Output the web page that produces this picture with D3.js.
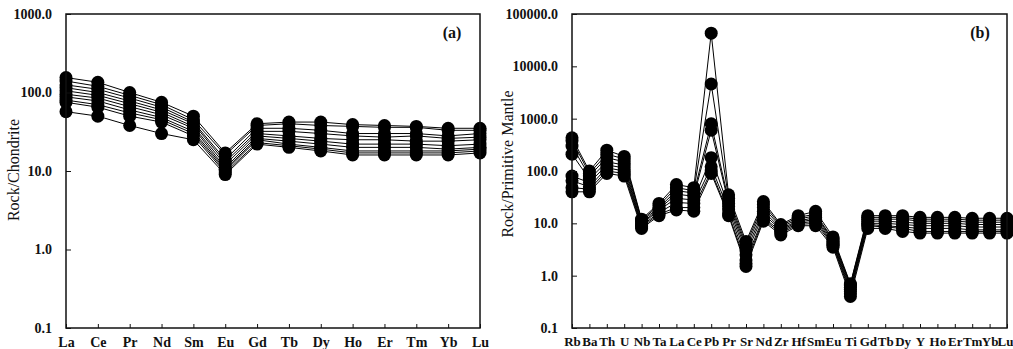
<!DOCTYPE html>
<html>
<head>
<meta charset="utf-8">
<script src="https://cdn.jsdelivr.net/npm/d3@7"></script>
<style>
  body { margin: 0; background: #fff; }
  svg text { font-family: "Liberation Serif", "Times New Roman", serif !important; fill: #111; }
</style>
</head>
<body>
<div id="chart"></div>
<script>
// chondrite normalised REE (panel a)
const reeElements = ["La","Ce","Pr","Nd","Sm","Eu","Gd","Tb","Dy","Ho","Er","Tm","Yb","Lu"];
const reeSamples = [
  [155,135,100,75,50,17,40,42,42,39,38,37,35,35],
  [140,120,92,70,45,16,38,40,38,37,36,36,33,33],
  [125,110,85,65,42,14,35,35,33,30,30,30,28,30],
  [115,100,78,60,40,13,32,32,30,28,27,28,26,27],
  [105,92,72,56,37,12,30,28,26,25,25,24,24,25],
  [95,85,66,52,35,11,28,26,24,22,22,22,21,22],
  [88,78,60,48,32,10.5,26,24,22,20,20,20,19,20],
  [80,70,55,45,30,10,25,22,20,18,18,18,18,19],
  [75,65,50,42,28,9.5,23,21,19,17,17,17,17,18],
  [57,50,38,30,25,9,22,20,18,16,16,16,16,17]
];
const reeTicks = [0.1, 1, 10, 100, 1000];

// primitive mantle normalised trace elements (panel b)
const traceElements = ["Rb","Ba","Th","U","Nb","Ta","La","Ce","Pb","Pr","Sr","Nd","Zr","Hf","Sm","Eu","Ti","Gd","Tb","Dy","Y","Ho","Er","Tm","Yb","Lu"];
const traceSamples = [
  [430,100,250,190,12,24,55,48,43000,35,4.5,26,9.5,14,17,5.5,0.7,14,14,14,13,13,13,12.5,12.5,12.5],
  [380,90,210,170,11.5,22,48,42,4600,30,4,23,9,13,15,5,0.68,13,13,13,12,12,12,11.5,11.5,11.5],
  [300,80,180,150,11,20,42,38,800,27,3.5,20,8.5,12,14,4.8,0.65,12,12,12,11,11,11,10.5,10.5,10.5],
  [210,70,150,130,10,19,36,33,600,24,3,17,8,11,13,4.5,0.6,11,11,10.5,10,10,10,9.5,9.5,9.5],
  [80,60,130,115,9.5,18,30,28,180,21,2.5,15,7.5,10.5,12,4.2,0.55,10,10,9.5,9,9,9,8.5,8.5,8.5],
  [65,50,115,100,9,16,25,24,120,18,2,13,7,10,11,4,0.5,9.5,9,8.5,8,8,8,7.5,7.5,7.5],
  [48,45,100,90,8.5,15,20,20,100,15,1.7,12,6.5,9.5,10,3.8,0.45,9,8.5,8,7,7,7,7,7,7],
  [40,40,90,80,8,14,18,17,90,14,1.5,11,6,9,9,3.5,0.4,8,8,7,6.5,6.5,6.5,6.5,6.5,6.5]
];
const traceTicks = [0.1, 1, 10, 100, 1000, 10000, 100000];

const W = 1013, H = 349;
const svg = d3.select("#chart").append("svg").attr("width", W).attr("height", H);

function drawPanel(opt) {
  const x = d3.scalePoint().domain(opt.cats).range([opt.left, opt.right]);
  const y = d3.scaleLog().domain(d3.extent(opt.ticks)).range([opt.bottom, opt.top]);
  const g = svg.append("g");

  // samples
  const line = d3.line().x((d, i) => x(opt.cats[i])).y(d => y(d));
  g.selectAll(".ln").data(opt.samples).enter().append("path")
    .attr("d", line).attr("fill", "none").attr("stroke", "#000").attr("stroke-width", 1);
  opt.samples.forEach(s => {
    g.selectAll(null).data(s).enter().append("circle")
      .attr("cx", (d, i) => x(opt.cats[i])).attr("cy", d => y(d))
      .attr("r", opt.r).attr("fill", "#000");
  });

  // frame
  g.append("rect").attr("x", opt.left).attr("y", opt.top)
    .attr("width", opt.right - opt.left).attr("height", opt.bottom - opt.top)
    .attr("fill", "none").attr("stroke", "#111").attr("stroke-width", 1.5);

  // y axis (ticks inside)
  const yAxis = d3.axisLeft(y).tickValues(opt.ticks).tickSizeInner(-5).tickSizeOuter(0)
    .tickPadding(14).tickFormat(d3.format(".1f"));
  const ya = g.append("g").attr("transform", `translate(${opt.left},0)`).call(yAxis);
  ya.select(".domain").remove();
  ya.selectAll("line").attr("stroke", "#111");
  ya.selectAll("text").attr("font-size", 14).attr("font-weight", "bold");

  // x axis (ticks inside)
  const xAxis = d3.axisBottom(x).tickSizeInner(-4).tickSizeOuter(0).tickPadding(9);
  const xa = g.append("g").attr("transform", `translate(0,${opt.bottom})`).call(xAxis);
  xa.select(".domain").remove();
  xa.selectAll("line").attr("stroke", "#111");
  xa.selectAll("text").attr("font-size", opt.xFont).attr("font-weight", "bold");
  xa.selectAll(".tick").filter(d => d === opt.cats[opt.cats.length - 1])
    .select("text").attr("dx", opt.lastShift);

  // axis title
  svg.append("text")
    .attr("transform", `translate(${opt.titleX},${opt.titleY}) rotate(-90)`)
    .attr("text-anchor", "middle").attr("font-size", 16).text(opt.title);

  // panel label
  svg.append("text").attr("x", opt.labelX).attr("y", 38)
    .attr("text-anchor", "middle").attr("font-size", 16).attr("font-weight", "bold")
    .text(opt.label);
}

drawPanel({
  cats: reeElements, samples: reeSamples, ticks: reeTicks,
  left: 66, right: 480, top: 14, bottom: 328, r: 6.5, xFont: 14, lastShift: 0,
  title: "Rock/Chondrite", titleX: 19, titleY: 170, label: "(a)", labelX: 452
});

drawPanel({
  cats: traceElements, samples: traceSamples, ticks: traceTicks,
  left: 572, right: 1007, top: 14, bottom: 328, r: 6.5, xFont: 13, lastShift: -2,
  title: "Rock/Primitive Mantle", titleX: 513, titleY: 164, label: "(b)", labelX: 980
});
</script>
</body>
</html>
